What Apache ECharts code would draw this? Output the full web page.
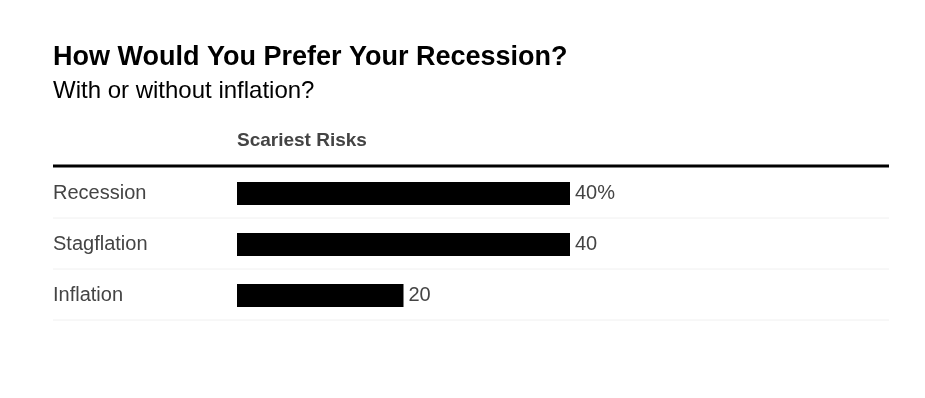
<!DOCTYPE html>
<html>
<head>
<meta charset="utf-8">
<script src="https://cdn.jsdelivr.net/npm/echarts@6/dist/echarts.min.js"></script>
<style>
  html, body { margin: 0; padding: 0; background: #fff; }
  #main { width: 925px; height: 398px; }
</style>
</head>
<body>
<div id="main"></div>
<script>
var categories = ['Recession', 'Stagflation', 'Inflation'];
var values = [40, 40, 20];
var columnTitle = 'Scariest Risks';

var chart = echarts.init(document.getElementById('main'));

// row separators (decoration only)
var seps = [218, 269, 320].map(function (y) {
    return {
        type: 'line',
        shape: { x1: 53, y1: y, x2: 889, y2: y },
        style: { stroke: '#f0f0f0', lineWidth: 1 }
    };
});

chart.setOption({
    animation: false,
    title: [{
        text: 'How Would You Prefer Your Recession?',
        left: 53, top: 44, padding: 0,
        textStyle: { fontFamily: 'Liberation Sans', fontSize: 27, fontWeight: 'bold', color: '#000' }
    }, {
        text: 'With or without inflation?',
        left: 53, top: 79, padding: 0,
        textStyle: { fontFamily: 'Liberation Sans', fontSize: 24, fontWeight: 'normal', color: '#000' }
    }, {
        text: columnTitle,
        left: 237, top: 131, padding: 0,
        textStyle: { fontFamily: 'Liberation Sans', fontSize: 19, fontWeight: 'bold', color: '#444' }
    }],
    graphic: [{
        type: 'line',
        shape: { x1: 53, y1: 166, x2: 889, y2: 166 },
        style: { stroke: '#000', lineWidth: 3 }
    }].concat(seps),
    grid: { left: 237, top: 168, width: 666, height: 153, containLabel: false },
    xAxis: {
        type: 'value', min: 0, max: 80,
        show: false
    },
    yAxis: {
        type: 'category', data: categories, inverse: true,
        axisLine: { show: false }, axisTick: { show: false }, splitLine: { show: false },
        axisLabel: {
            align: 'left', margin: 184,
            fontFamily: 'Liberation Sans', fontSize: 20, color: '#444'
        }
    },
    series: [{
        type: 'bar',
        data: values,
        barWidth: 23,
        itemStyle: { color: '#000' },
        label: {
            show: true, position: 'right', distance: 5,
            fontFamily: 'Liberation Sans', fontSize: 20, color: '#444',
            formatter: function (p) { return p.dataIndex === 0 ? p.value + '%' : p.value; }
        }
    }]
});
</script>
</body>
</html>
